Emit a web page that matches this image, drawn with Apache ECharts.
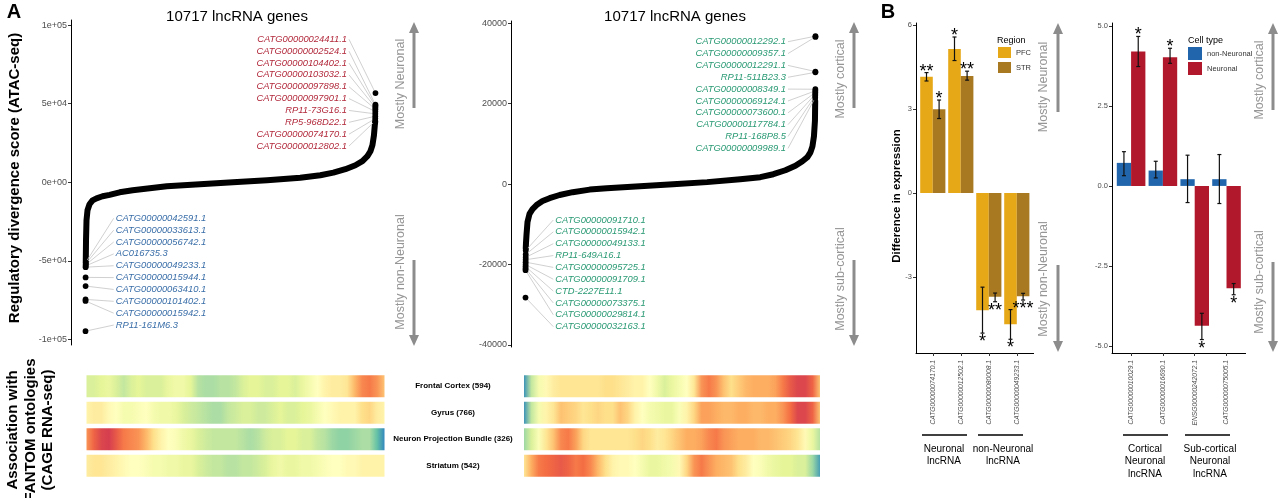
<!DOCTYPE html>
<html><head><meta charset="utf-8">
<script src="https://cdn.jsdelivr.net/npm/echarts@6/dist/echarts.min.js"></script>
<style>html,body{margin:0;padding:0;background:#fff}#c{width:1280px;height:498px}</style>
</head><body><div id="c"></div>
<script>
// ================= DATA =================
// Panel A, left: sorted regulatory divergence score (ATAC-seq), Neuronal vs non-Neuronal
const leftCurveRanks  = [10, 19, 37, 74, 148, 260, 408, 630, 890, 1261, 1743, 2373, 3004, 4227, 5450, 6711, 7935, 8677, 9159, 9604, 9975, 10234, 10419, 10530, 10604, 10660, 10690, 10706];
const leftCurveValues = [-50500, -36900, -24200, -17800, -14000, -11500, -10200, -8900, -8000, -6400, -5100, -3800, -2500, -1270, 0, 1270, 2900, 4500, 6100, 8300, 10800, 13400, 16600, 19700, 23600, 29900, 36000, 38500];
const leftTopGenes  = ['CATG00000024411.1','CATG00000002524.1','CATG00000104402.1','CATG00000103032.1','CATG00000097898.1','CATG00000097901.1','RP11-73G16.1','RP5-968D22.1','CATG00000074170.1','CATG00000012802.1'];
const leftTopRanks  = [10716, 10715, 10714, 10713, 10712, 10711, 10710, 10709, 10708, 10707];
const leftTopValues = [56700, 49300, 48500, 47500, 46500, 45000, 43500, 42000, 40500, 39000];
const leftBotGenes  = ['CATG00000042591.1','CATG00000033613.1','CATG00000056742.1','AC016735.3','CATG00000049233.1','CATG00000015944.1','CATG00000063410.1','CATG00000101402.1','CATG00000015942.1','RP11-161M6.3'];
const leftBotRanks  = [9, 8, 7, 6, 5, 4, 3, 2, 1, 0];
const leftBotValues = [-51000, -51800, -52500, -53200, -54000, -60500, -66000, -74500, -75500, -94700];
const leftTickValues = [-100000, -50000, 0, 50000, 100000];
const leftTickLabels = ['-1e+05', '-5e+04', '0e+00', '5e+04', '1e+05'];

// Panel A, right: cortical vs sub-cortical
const rightCurveRanks  = [10, 19, 37, 74, 148, 260, 408, 630, 890, 1261, 1743, 2373, 3004, 4227, 5450, 6711, 7935, 8677, 9159, 9604, 9975, 10234, 10419, 10530, 10604, 10660, 10697, 10706];
const rightCurveValues = [-16000, -14500, -12600, -9400, -7400, -6200, -5200, -4200, -3500, -2700, -2000, -1360, -1000, -500, 0, 500, 1240, 1730, 2470, 3460, 4570, 5700, 6700, 7900, 9400, 11900, 15800, 20700];
const rightTopGenes  = ['CATG00000012292.1','CATG00000009357.1','CATG00000012291.1','RP11-511B23.3','CATG00000008349.1','CATG00000069124.1','CATG00000073600.1','CATG00000117784.1','RP11-168P8.5','CATG00000009989.1'];
const rightTopRanks  = [10716, 10715, 10714, 10713, 10712, 10711, 10710, 10709, 10708, 10707];
const rightTopValues = [36800, 36600, 28000, 27800, 23600, 23200, 22800, 22400, 22000, 21500];
const rightBotGenes  = ['CATG00000091710.1','CATG00000015942.1','CATG00000049133.1','RP11-649A16.1','CATG00000095725.1','CATG00000091709.1','CTD-2227E11.1','CATG00000073375.1','CATG00000029814.1','CATG00000032163.1'];
const rightBotRanks  = [9, 8, 7, 6, 5, 4, 3, 2, 1, 0];
const rightBotValues = [-16500, -17500, -18200, -18800, -19400, -20000, -20500, -21000, -21400, -28200];
const rightTickValues = [-40000, -20000, 0, 20000, 40000];
const rightTickLabels = ['-40000', '-20000', '0', '20000', '40000'];

// Heatmaps: association with FANTOM ontologies along the gene ranking (-1 = blue ... +1 = red)
const ontologyRows = ['Frontal Cortex (594)', 'Gyrus (766)', 'Neuron Projection Bundle (326)', 'Striatum (542)'];
const heatLeftFC  = [-0.3,-0.3,-0.25,-0.2,-0.3,-0.4,-0.3,-0.25,-0.3,-0.3,-0.3,-0.2,-0.15,-0.15,-0.25,-0.45,-0.5,-0.5,-0.45,-0.45,-0.4,-0.3,-0.25,-0.25,-0.3,-0.3,-0.25,-0.25,-0.3,-0.2,-0.1,0.0,0.1,0.15,0.15,0.2,0.45,0.65,0.7,0.6,0.4];
const heatLeftGy  = [0.1,0.15,0.15,0.05,0.0,-0.1,-0.1,-0.05,0.0,-0.1,-0.15,-0.15,-0.2,-0.3,-0.35,-0.4,-0.45,-0.5,-0.5,-0.4,-0.35,-0.3,-0.3,-0.35,-0.35,-0.3,-0.25,-0.3,-0.3,-0.25,-0.2,-0.1,0.0,0.05,0.1,0.1,0.1,0.25,0.3,0.15,0.1];
const heatLeftNPB = [0.6,0.8,0.95,1.0,0.85,0.7,0.65,0.6,0.45,0.25,0.1,0.0,-0.05,-0.15,-0.2,-0.3,-0.35,-0.4,-0.4,-0.4,-0.4,-0.45,-0.5,-0.45,-0.35,-0.3,-0.3,-0.25,-0.25,-0.3,-0.3,-0.4,-0.45,-0.55,-0.6,-0.6,-0.55,-0.5,-0.5,-0.75,-1.0];
const heatLeftSt  = [0.15,0.2,0.2,0.15,0.1,0.05,0.0,0.0,-0.05,-0.1,-0.1,-0.15,-0.15,-0.2,-0.2,-0.3,-0.35,-0.4,-0.4,-0.45,-0.45,-0.4,-0.4,-0.35,-0.3,-0.2,-0.15,-0.2,-0.2,-0.15,-0.15,-0.1,-0.05,0.0,0.0,0.05,0.05,0.1,0.1,0.1,0.1];
const heatRightFC  = [-0.95,-0.4,-0.1,0.05,0.15,0.2,0.2,0.2,0.2,0.2,0.2,0.25,0.25,0.2,0.15,0.1,0.1,0.0,-0.15,-0.3,-0.2,-0.1,0.0,0.2,0.6,0.7,0.6,0.4,0.25,0.35,0.45,0.5,0.5,0.5,0.55,0.7,0.85,0.95,0.95,0.8,0.4];
const heatRightGy  = [-0.95,-0.4,-0.1,0.1,0.2,0.4,0.35,0.3,0.2,0.25,0.3,0.25,0.25,0.4,0.3,0.1,0.0,-0.1,-0.15,-0.2,-0.2,-0.05,0.1,0.3,0.55,0.55,0.5,0.45,0.45,0.5,0.5,0.45,0.45,0.5,0.5,0.6,0.75,0.95,0.95,0.8,0.4];
const heatRightNPB = [-0.55,-0.3,-0.05,0.2,0.4,0.65,0.7,0.55,0.3,0.2,0.2,0.2,0.2,0.2,0.2,0.25,0.3,0.25,0.15,0.2,0.3,0.4,0.5,0.5,0.55,0.65,0.7,0.6,0.55,0.5,0.5,0.5,0.45,0.45,0.4,0.35,0.3,0.2,0.05,-0.2,-0.45];
const heatRightSt  = [0.2,0.5,0.7,0.75,0.8,0.85,0.8,0.7,0.75,0.65,0.45,0.25,0.1,0.05,0.05,0.0,-0.1,-0.2,-0.2,-0.15,-0.1,0.05,0.3,0.6,0.7,0.6,0.5,0.45,0.4,0.25,0.15,0.0,-0.05,-0.15,-0.2,-0.25,-0.25,-0.3,-0.3,-0.55,-0.9];

// Panel B, left: Neuronal / non-Neuronal lncRNA, by region
const b1Cats = ['CATG00000074170.1', 'CATG00000012502.1', 'CATG00000080008.1', 'CATG00000049233.1'];
const b1PFC = [4.15, 5.14, -4.18, -4.68];
const b1PFCLow = [4.0, 4.73, -5.0, -5.22];
const b1PFCHigh = [4.3, 5.57, -3.36, -4.16];
const b1PFCSig = ['**', '*', '*', '*'];
const b1STR = [2.99, 4.18, -3.7, -3.68];
const b1STRLow = [2.66, 4.03, -3.88, -3.82];
const b1STRHigh = [3.32, 4.35, -3.57, -3.58];
const b1STRSig = ['*', '**', '**', '***'];
const b1TickValues = [-3, 0, 3, 6];
const b1TickLabels = ['-3', '0', '3', '6'];

// Panel B, right: cortical / sub-cortical neuronal lncRNA, by cell type
const b2Cats = ['CATG00000010029.1', 'CATG00000016690.1', 'ENSG00000242072.1', 'CATG00000075005.1'];
const b2NonNeu = [0.72, 0.48, 0.21, 0.21];
const b2NonNeuLow = [0.32, 0.25, -0.52, -0.55];
const b2NonNeuHigh = [1.07, 0.77, 0.96, 0.98];
const b2NonNeuSig = ['', '', '', ''];
const b2Neu = [4.2, 4.02, -4.37, -3.2];
const b2NeuLow = [3.73, 3.83, -4.8, -3.4];
const b2NeuHigh = [4.67, 4.3, -3.98, -3.05];
const b2NeuSig = ['*', '*', '*', '*'];
const b2TickValues = [-5, -2.5, 0, 2.5, 5];
const b2TickLabels = ['-5.0', '-2.5', '0.0', '2.5', '5.0'];

// ================= RENDER =================
const FONT = '"Liberation Sans", Arial, Helvetica, sans-serif';
const spectralColors = ['#3288bd','#66c2a5','#abdda4','#e6f598','#ffffbf','#fee08b','#fdae61','#f46d43','#d53e4f'];
function spectral(v) { v = Math.max(-1, Math.min(1, v)); return echarts.color.lerp((v + 1) / 2, spectralColors); }

const chart = echarts.init(document.getElementById('c'), null, {renderer: 'canvas'});

function pairs(xs, ys) { return xs.map((x, i) => [x, ys[i]]); }

function geneData(topR, topV, botR, botV) {
  const d = [];
  topR.forEach((r, i) => d.push([r, topV[i], i, 0]));
  botR.forEach((r, i) => d.push([r, botV[i], i, 1]));
  return d;
}
function geneRenderer(names, colors, lay) {
  return function (params, api) {
    const rank = api.value(0), val = api.value(1), i = api.value(2), grp = api.value(3);
    const p = api.coord([rank, val]);
    const L = grp === 0 ? lay.top : lay.bot;
    const ly = L.y + i * L.step;
    const lx = L.x;
    const sx = grp === 0 ? lx + 2 : lx - 2;
    return {type: 'group', children: [
      {type: 'line', shape: {x1: sx, y1: ly, x2: p[0], y2: p[1]}, style: {stroke: '#c4c4c4', lineWidth: 0.8}, z2: 1},
      {type: 'circle', shape: {cx: p[0], cy: p[1], r: 2.9}, style: {fill: '#000'}, z2: 5},
      {type: 'text', x: lx, y: ly, style: {text: names[params.dataIndex], fill: colors[grp], font: 'italic 9.4px ' + FONT, align: grp === 0 ? 'right' : 'left', verticalAlign: 'middle'}, z2: 3}
    ]};
  };
}
function heatRenderer(rows) {
  return function (params, api) {
    const r = api.value(1);
    const a = api.coord([0, r]), b = api.coord([1, r]);
    const h = api.size([0, 1])[1] * 0.83;
    const vals = rows[r];
    const stops = vals.map((v, i) => ({offset: i / (vals.length - 1), color: spectral(v)}));
    return {type: 'rect', shape: {x: a[0], y: a[1] - h / 2, width: b[0] - a[0], height: h},
      style: {fill: new echarts.graphic.LinearGradient(0, 0, 1, 0, stops)}};
  };
}
function errData(vals, lows, highs, side) { return vals.map((v, i) => [i + 1, lows[i], highs[i], side, v]); }
function errRenderer(barW, sigs) {
  return function (params, api) {
    const x = api.value(0), lo = api.value(1), hi = api.value(2), side = api.value(3), val = api.value(4);
    const pH = api.coord([x, hi]), pL = api.coord([x, lo]);
    const cx = pH[0] + side * barW / 2;
    const st = {stroke: '#111', lineWidth: 1.2};
    const ch = [
      {type: 'line', shape: {x1: cx, y1: pH[1], x2: cx, y2: pL[1]}, style: st},
      {type: 'line', shape: {x1: cx - 2, y1: pH[1], x2: cx + 2, y2: pH[1]}, style: st},
      {type: 'line', shape: {x1: cx - 2, y1: pL[1], x2: cx + 2, y2: pL[1]}, style: st}
    ];
    const s = sigs[params.dataIndex];
    if (s) ch.push({type: 'text', x: cx, y: val >= 0 ? pH[1] - 1 : pL[1] + 9,
      style: {text: s, fill: '#000', font: '18px ' + FONT, align: 'center', verticalAlign: 'middle'}});
    return {type: 'group', children: ch};
  };
}

function valueYAxis(grid, min, max, ticks, labels, fs) {
  return {gridIndex: grid, type: 'value', min: min, max: max, splitLine: {show: false},
    axisLine: {show: true, onZero: false, lineStyle: {color: '#000', width: 1}},
    axisTick: {show: true, customValues: ticks, length: 3, lineStyle: {color: '#333'}},
    axisLabel: {show: true, customValues: ticks, formatter: v => labels[ticks.indexOf(v)], fontSize: fs, color: '#4d4d4d', margin: 4, fontFamily: FONT}};
}
function barXAxis(grid, cats) {
  const t = [1, 2, 3, 4];
  return {gridIndex: grid, type: 'value', min: 0.4, max: 4.6, splitLine: {show: false},
    axisLine: {show: true, onZero: false, lineStyle: {color: '#000', width: 1}},
    axisTick: {show: true, customValues: t, length: 3, lineStyle: {color: '#333'}},
    axisLabel: {show: true, customValues: t, formatter: v => cats[Math.round(v) - 1], rotate: 90, fontSize: 6.7, fontStyle: 'italic', color: '#4d4d4d', margin: 7, fontFamily: FONT}};
}

// ---- graphic annotations ----
const G = [];
function text(x, y, s, font, fill, extra) {
  G.push(Object.assign({type: 'text', x: x, y: y, style: {text: s, font: font, fill: fill || '#000', align: 'center', verticalAlign: 'middle'}}, extra || {}));
}
function vtext(x, y, s, font, fill) { text(x, y, s, font, fill, {rotation: Math.PI / 2}); }
function arrow(x, tail, tip) {
  const dir = tip < tail ? -1 : 1, base = tip - dir * 11;
  G.push({type: 'line', shape: {x1: x, y1: tail, x2: x, y2: base}, style: {stroke: '#8c8c8c', lineWidth: 3}});
  G.push({type: 'polygon', shape: {points: [[x - 5, base], [x + 5, base], [x, tip]]}, style: {fill: '#8c8c8c'}});
}
function bracket(x1, x2, y) { G.push({type: 'line', shape: {x1: x1, y1: y, x2: x2, y2: y}, style: {stroke: '#000', lineWidth: 1.5}}); }

text(14, 12, 'A', 'bold 20px ' + FONT);
text(888, 12, 'B', 'bold 20px ' + FONT);
text(237, 17, '10717 lncRNA genes', '15px ' + FONT);
text(675, 17, '10717 lncRNA genes', '15px ' + FONT);
vtext(15, 178, 'Regulatory divergence score (ATAC-seq)', 'bold 15px ' + FONT);
vtext(13, 430, 'Association with', 'bold 15px ' + FONT);
vtext(31, 430, 'FANTOM ontologies', 'bold 15px ' + FONT);
vtext(48, 430, '(CAGE RNA-seq)', 'bold 15px ' + FONT);
vtext(897, 196, 'Difference in expression', 'bold 11.5px ' + FONT);
const grayF = '12.5px ' + FONT, gray = '#969696';
arrow(414, 108, 22); arrow(414, 260, 346);
vtext(401, 84, 'Mostly Neuronal', grayF, gray); vtext(401, 272, 'Mostly non-Neuronal', grayF, gray);
arrow(854, 108, 22); arrow(854, 260, 346);
vtext(841, 79, 'Mostly cortical', grayF, gray); vtext(841, 279, 'Mostly sub-cortical', grayF, gray);
arrow(1058, 112, 23); arrow(1058, 265, 352);
vtext(1044, 87, 'Mostly Neuronal', grayF, gray); vtext(1044, 279, 'Mostly non-Neuronal', grayF, gray);
arrow(1273, 110, 23); arrow(1273, 262, 352);
vtext(1260, 80, 'Mostly cortical', grayF, gray); vtext(1260, 282, 'Mostly sub-cortical', grayF, gray);
G.push({type: 'text', x: 997, y: 41, style: {text: 'Region', font: '9px ' + FONT, fill: '#000', align: 'left', verticalAlign: 'middle'}});
G.push({type: 'text', x: 1188, y: 41, style: {text: 'Cell type', font: '9px ' + FONT, fill: '#000', align: 'left', verticalAlign: 'middle'}});
bracket(922, 967, 435); bracket(978, 1023, 435); bracket(1123, 1168, 435); bracket(1185, 1230, 435);
const grpF = '10px ' + FONT;
text(944, 449, 'Neuronal', grpF); text(944, 461, 'lncRNA', grpF);
text(1003, 449, 'non-Neuronal', grpF); text(1003, 461, 'lncRNA', grpF);
text(1145, 449, 'Cortical', grpF); text(1145, 461, 'Neuronal', grpF); text(1145, 474, 'lncRNA', grpF);
text(1210, 449, 'Sub-cortical', grpF); text(1210, 461, 'Neuronal', grpF); text(1210, 474, 'lncRNA', grpF);

const colPFC = '#E6A817', colSTR = '#A87920', colNon = '#2166AC', colNeu = '#B2182B';
const b1W = 12.6, b2W = 14.3;
// pixel anchors for the repelled gene labels
const leftLayout  = {top: {x: 347, y: 39.3, step: 11.86}, bot: {x: 115.7, y: 218.3, step: 11.86}};
const rightLayout = {top: {x: 786, y: 41.7, step: 11.85}, bot: {x: 555.3, y: 220, step: 11.85}};

const option = {
  animation: false,
  backgroundColor: '#fff',
  textStyle: {fontFamily: FONT},
  grid: [
    {left: 71, top: 20, width: 319, height: 325, outerBoundsMode: 'none'},
    {left: 511, top: 21, width: 319, height: 326, outerBoundsMode: 'none'},
    {left: 86.5, top: 373, width: 298, height: 106, outerBoundsMode: 'none'},
    {left: 524, top: 373, width: 296, height: 106, outerBoundsMode: 'none'},
    {left: 916, top: 23, width: 117.6, height: 330, outerBoundsMode: 'none'},
    {left: 1112, top: 23, width: 133.6, height: 330, outerBoundsMode: 'none'}
  ],
  xAxis: [
    {gridIndex: 0, type: 'value', min: -536, max: 11253, show: false},
    {gridIndex: 1, type: 'value', min: -536, max: 11253, show: false},
    {gridIndex: 2, type: 'value', min: 0, max: 1, show: false},
    {gridIndex: 3, type: 'value', min: 0, max: 1, show: false},
    barXAxis(4, b1Cats),
    barXAxis(5, b2Cats)
  ],
  yAxis: [
    valueYAxis(0, -103500, 103200, leftTickValues, leftTickLabels, 9),
    valueYAxis(1, -40500, 40570, rightTickValues, rightTickLabels, 9),
    {gridIndex: 2, type: 'category', data: ontologyRows, inverse: true, position: 'right',
      axisLine: {show: false}, axisTick: {show: false}, splitLine: {show: false},
      axisLabel: {show: true, align: 'center', margin: 68.5, fontWeight: 'bold', fontSize: 8, color: '#000', fontFamily: FONT}},
    {gridIndex: 3, type: 'category', data: ontologyRows, inverse: true, show: false},
    valueYAxis(4, -5.71, 6.07, b1TickValues, b1TickLabels, 7.5),
    valueYAxis(5, -5.22, 5.09, b2TickValues, b2TickLabels, 7.5)
  ],
  legend: [
    {data: ['PFC', 'STR'], left: 998, top: 47, orient: 'vertical', padding: 0, itemWidth: 13, itemHeight: 11, itemGap: 4, icon: 'rect', selectedMode: false, textStyle: {fontSize: 7.5, color: '#333', fontFamily: FONT}},
    {data: ['non-Neuronal', 'Neuronal'], left: 1188, top: 47, orient: 'vertical', padding: 0, itemWidth: 14, itemHeight: 13, itemGap: 2, icon: 'rect', selectedMode: false, textStyle: {fontSize: 7.5, color: '#333', fontFamily: FONT}}
  ],
  series: [
    {type: 'line', xAxisIndex: 0, yAxisIndex: 0, data: pairs(leftCurveRanks, leftCurveValues), showSymbol: false, symbol: 'none',
      lineStyle: {color: '#000', width: 6, cap: 'round', join: 'round'}, z: 2, silent: true},
    {type: 'custom', xAxisIndex: 0, yAxisIndex: 0, data: geneData(leftTopRanks, leftTopValues, leftBotRanks, leftBotValues),
      renderItem: geneRenderer(leftTopGenes.concat(leftBotGenes), ['#B22A3C', '#3A6EA8'], leftLayout), z: 3, silent: true},
    {type: 'line', xAxisIndex: 1, yAxisIndex: 1, data: pairs(rightCurveRanks, rightCurveValues), showSymbol: false, symbol: 'none',
      lineStyle: {color: '#000', width: 6, cap: 'round', join: 'round'}, z: 2, silent: true},
    {type: 'custom', xAxisIndex: 1, yAxisIndex: 1, data: geneData(rightTopRanks, rightTopValues, rightBotRanks, rightBotValues),
      renderItem: geneRenderer(rightTopGenes.concat(rightBotGenes), ['#2A9A74', '#2A9A74'], rightLayout), z: 3, silent: true},
    {type: 'custom', xAxisIndex: 2, yAxisIndex: 2, data: [[0, 0], [0, 1], [0, 2], [0, 3]], encode: {x: 0, y: 1},
      renderItem: heatRenderer([heatLeftFC, heatLeftGy, heatLeftNPB, heatLeftSt]), silent: true},
    {type: 'custom', xAxisIndex: 3, yAxisIndex: 3, data: [[0, 0], [0, 1], [0, 2], [0, 3]], encode: {x: 0, y: 1},
      renderItem: heatRenderer([heatRightFC, heatRightGy, heatRightNPB, heatRightSt]), silent: true},
    {name: 'PFC', type: 'bar', xAxisIndex: 4, yAxisIndex: 4, data: pairs([1, 2, 3, 4], b1PFC), barWidth: b1W, barGap: '0%', itemStyle: {color: colPFC}},
    {name: 'STR', type: 'bar', xAxisIndex: 4, yAxisIndex: 4, data: pairs([1, 2, 3, 4], b1STR), barWidth: b1W, barGap: '0%', itemStyle: {color: colSTR}},
    {type: 'custom', xAxisIndex: 4, yAxisIndex: 4, data: errData(b1PFC, b1PFCLow, b1PFCHigh, -1), renderItem: errRenderer(b1W, b1PFCSig), z: 10, silent: true},
    {type: 'custom', xAxisIndex: 4, yAxisIndex: 4, data: errData(b1STR, b1STRLow, b1STRHigh, 1), renderItem: errRenderer(b1W, b1STRSig), z: 10, silent: true},
    {name: 'non-Neuronal', type: 'bar', xAxisIndex: 5, yAxisIndex: 5, data: pairs([1, 2, 3, 4], b2NonNeu), barWidth: b2W, barGap: '0%', itemStyle: {color: colNon}},
    {name: 'Neuronal', type: 'bar', xAxisIndex: 5, yAxisIndex: 5, data: pairs([1, 2, 3, 4], b2Neu), barWidth: b2W, barGap: '0%', itemStyle: {color: colNeu}},
    {type: 'custom', xAxisIndex: 5, yAxisIndex: 5, data: errData(b2NonNeu, b2NonNeuLow, b2NonNeuHigh, -1), renderItem: errRenderer(b2W, b2NonNeuSig), z: 10, silent: true},
    {type: 'custom', xAxisIndex: 5, yAxisIndex: 5, data: errData(b2Neu, b2NeuLow, b2NeuHigh, 1), renderItem: errRenderer(b2W, b2NeuSig), z: 10, silent: true}
  ],
  graphic: G
};
chart.setOption(option);
</script>
</body></html>
